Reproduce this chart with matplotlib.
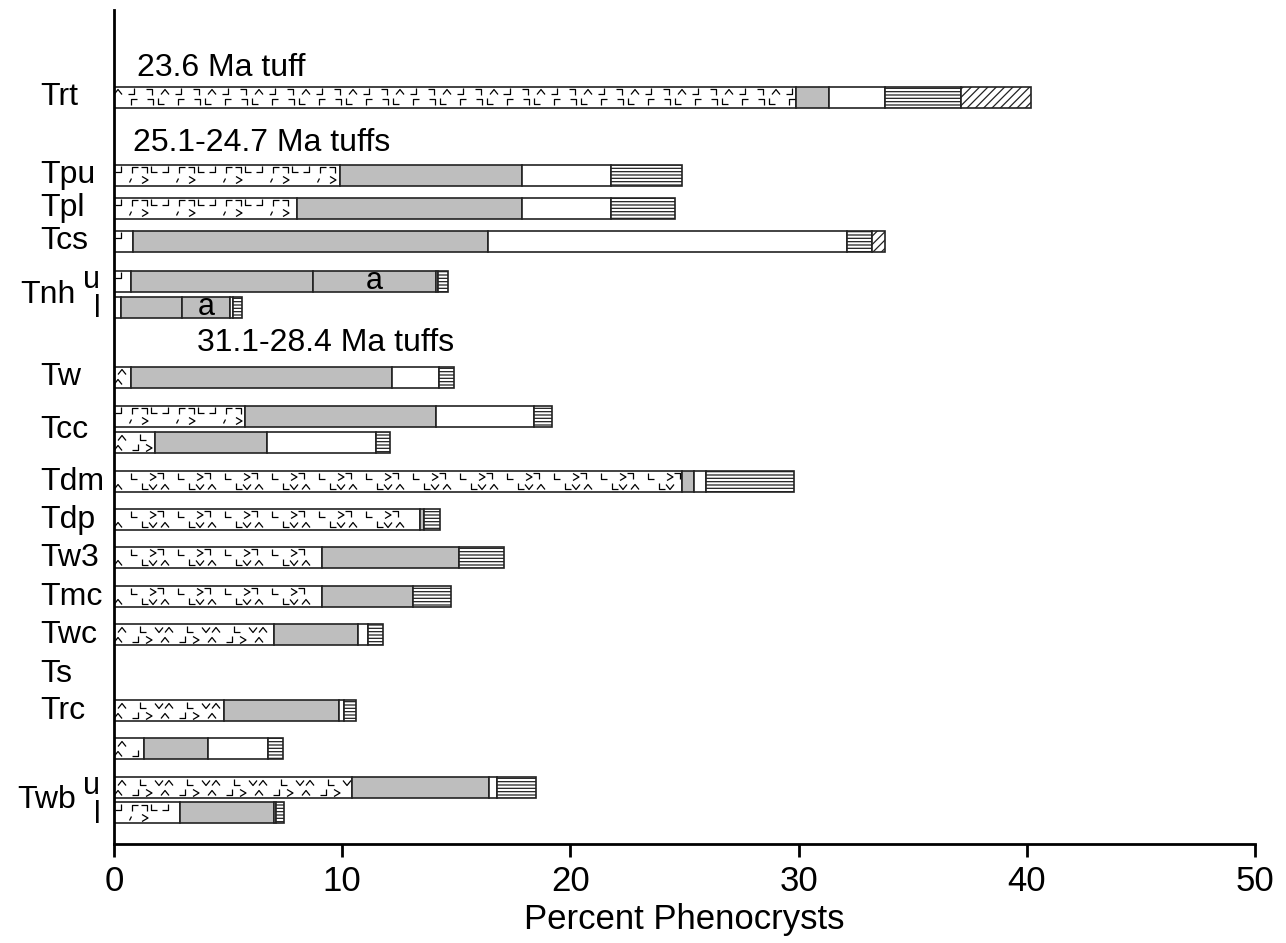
import numpy as np
import matplotlib.pyplot as plt
from matplotlib.collections import LineCollection
from matplotlib.transforms import blended_transform_factory

plt.rcParams['font.family'] = ['Liberation Sans', 'DejaVu Sans']
plt.rcParams['hatch.linewidth'] = 0.9

# rows, top to bottom (y in pixel-like units, axis is inverted)
rows = ['Trt', 'Tpu', 'Tpl', 'Tcs', 'Tnh u', 'Tnh l', 'Tw', 'Tcc u', 'Tcc l',
        'Tdm', 'Tdp', 'Tw3', 'Tmc', 'Twc', 'Ts', 'Trc', 'unlabeled', 'Twb u', 'Twb l']
row_y = [97, 175, 208, 241, 281, 307, 377, 416, 443,
         482, 520, 558, 597, 635, 674, 711, 749, 788, 813]

# percent of each phenocryst component (stacked left to right)
pattern_pct = [29.9, 9.9, 8.0, 0.85, 0.75, 0.3, 0.75, 5.75, 1.8,
               24.9, 13.4, 9.1, 9.1, 7.0, 0, 4.8, 1.3, 10.45, 2.9]
gray_pct = [1.45, 8.0, 9.9, 15.55, 7.95, 2.7, 11.45, 8.35, 4.9,
            0.5, 0.2, 6.0, 4.0, 3.7, 0, 5.05, 2.8, 6.0, 4.1]
gray_a_pct = [0, 0, 0, 0, 5.4, 2.1, 0, 0, 0,
              0, 0, 0, 0, 0, 0, 0, 0, 0, 0]
white_pct = [2.45, 3.9, 3.9, 15.7, 0.1, 0.1, 2.05, 4.3, 4.8,
             0.55, 0, 0, 0, 0.45, 0, 0.25, 2.65, 0.35, 0.08]
hline_pct = [3.3, 3.1, 2.8, 1.1, 0.45, 0.4, 0.65, 0.8, 0.6,
             3.85, 0.7, 2.0, 1.65, 0.65, 0, 0.5, 0.65, 1.7, 0.35]
diag_pct = [3.1, 0, 0, 0.6, 0, 0, 0, 0, 0,
            0, 0, 0, 0, 0, 0, 0, 0, 0, 0]
pattern_kind = ['A', 'B', 'B', 'B', 'B', 'B', 'D', 'B', 'D',
                'C', 'C', 'C', 'C', 'D', 'D', 'D', 'D', 'D', 'B']

group_labels = ['Trt', 'Tpu', 'Tpl', 'Tcs', 'Tnh', 'Tw', 'Tcc', 'Tdm', 'Tdp',
                'Tw3', 'Tmc', 'Twc', 'Ts', 'Trc', 'Twb']
group_y = [97, 175, 208, 241, 295, 377, 430, 482, 520, 558, 597, 635, 674, 711, 800]
sub_labels = ['u', 'l', 'u', 'l']
sub_base = [288, 317, 794, 823]

age_labels = ['23.6 Ma tuff', '25.1-24.7 Ma tuffs', '31.1-28.4 Ma tuffs']
age_x = [1.0, 0.83, 3.64]
age_y = [68, 143, 343]

# little volcanic-texture glyphs (pixel offsets, dy up)
GLYPHS = {
    '^': [(-4, -2.5), (0, 2.5), (4, -2.5)],
    'v': [(-4, 2.5), (0, -2.5), (4, 2.5)],
    'L': [(-2.5, 3.5), (-2.5, -2.5), (3.5, -2.5)],
    'G': [(-2.5, -3.5), (-2.5, 2.5), (3.5, 2.5)],
    '7': [(-3.5, 2.5), (2.5, 2.5), (2.5, -3.5)],
    'J': [(-3.5, -2.5), (2.5, -2.5), (2.5, 3.5)],
    '>': [(-3, 3.5), (3, 0), (-3, -3.5)],
    ',': [(0.5, 1.5), (-1.5, -2.5)],
}
PATTERNS = {
    'A': [('^', 4, 5), ('J', 17, 5), ('7', 35, 5), ('G', 19, -5), ('7', 36, -5), ('L', 46, -5)],
    'B': [('J', 4, 5), ('G', 20, 5), ('7', 30, 5), ('L', 39, 5), (',', 17, -5), ('>', 31, -5)],
    'C': [('L', 19, 5), ('>', 39, 5), ('7', 46, 6), ('^', 4, -5), ('L', 30, -5), ('v', 39, -5)],
    'D': [('^', 8, 5), ('L', 28, 5), ('v', 45, 5), ('^', 4, -5), ('J', 21, -5), ('>', 35, -5)],
}
PERIOD = 47

fig = plt.figure(figsize=(12.86, 9.43), dpi=100)
ax = fig.add_axes([114 / 1286, 1 - 844 / 943, 1141 / 1286, 834 / 943])
ax.set_xlim(0, 50)
ax.set_ylim(844, 10)
px_per_unit = 1141 / 50

bar_h = 21
series = [
    (pattern_pct, 'white', None),
    (gray_pct, '#bebebe', None),
    (gray_a_pct, '#bebebe', None),
    (white_pct, 'white', None),
    (hline_pct, 'white', '-----'),
    (diag_pct, 'white', '////'),
]
left = np.zeros(len(rows))
for vals, col, hatch in series:
    vals = np.array(vals, dtype=float)
    idx = vals > 0
    ax.barh(np.array(row_y)[idx], vals[idx], left=left[idx], height=bar_h,
            color=col, edgecolor='#222222', linewidth=1.2, hatch=hatch, zorder=2)
    left = left + vals

# texture glyphs inside the first segment
segs = []
for y, w, kind in zip(row_y, pattern_pct, pattern_kind):
    if w <= 0:
        continue
    end_px = w * px_per_unit
    k = 0
    while k * PERIOD < end_px:
        for g, off, dy in PATTERNS[kind]:
            cx = k * PERIOD + off
            if cx - 3 < 0 or cx + 4 > end_px - 1:
                continue
            segs.append([((cx + px) / px_per_unit, y - dy - py) for px, py in GLYPHS[g]])
        k += 1
ax.add_collection(LineCollection(segs, colors='black', linewidths=0.9, zorder=3))

# "a" marks on the second gray segment
start_a = np.array(pattern_pct) + np.array(gray_pct)
for y, s, w in zip(row_y, start_a, gray_a_pct):
    if w > 0:
        ax.text(s + w / 2, y, 'a', ha='center', va='center', fontsize=22, zorder=4)

lab_tr = blended_transform_factory(fig.transFigure, ax.transData)
for lab, y in zip(group_labels, group_y):
    if lab in ('Tnh', 'Twb'):
        # these carry u / l sub-labels to their right
        ax.text(76 / 1286, y, lab, transform=lab_tr, ha='right', va='center', fontsize=23)
    else:
        ax.text(40 / 1286, y, lab, transform=lab_tr, ha='left', va='center', fontsize=23)
for lab, y in zip(sub_labels, sub_base):
    ax.text(-0.6, y, lab, ha='right', va='baseline', fontsize=22)
for lab, x, y in zip(age_labels, age_x, age_y):
    ax.text(x, y, lab, ha='left', va='center', fontsize=23)

ax.spines['top'].set_visible(False)
ax.spines['right'].set_visible(False)
ax.spines['left'].set_linewidth(2)
ax.spines['bottom'].set_linewidth(2)
ax.set_yticks([])
ax.set_xticks([0, 10, 20, 30, 40, 50])
ax.tick_params(axis='x', direction='out', length=9, width=2, labelsize=25, pad=6)
ax.set_xlabel('Percent Phenocrysts', fontsize=25, labelpad=4)

fig.savefig('out.png', dpi=100)
